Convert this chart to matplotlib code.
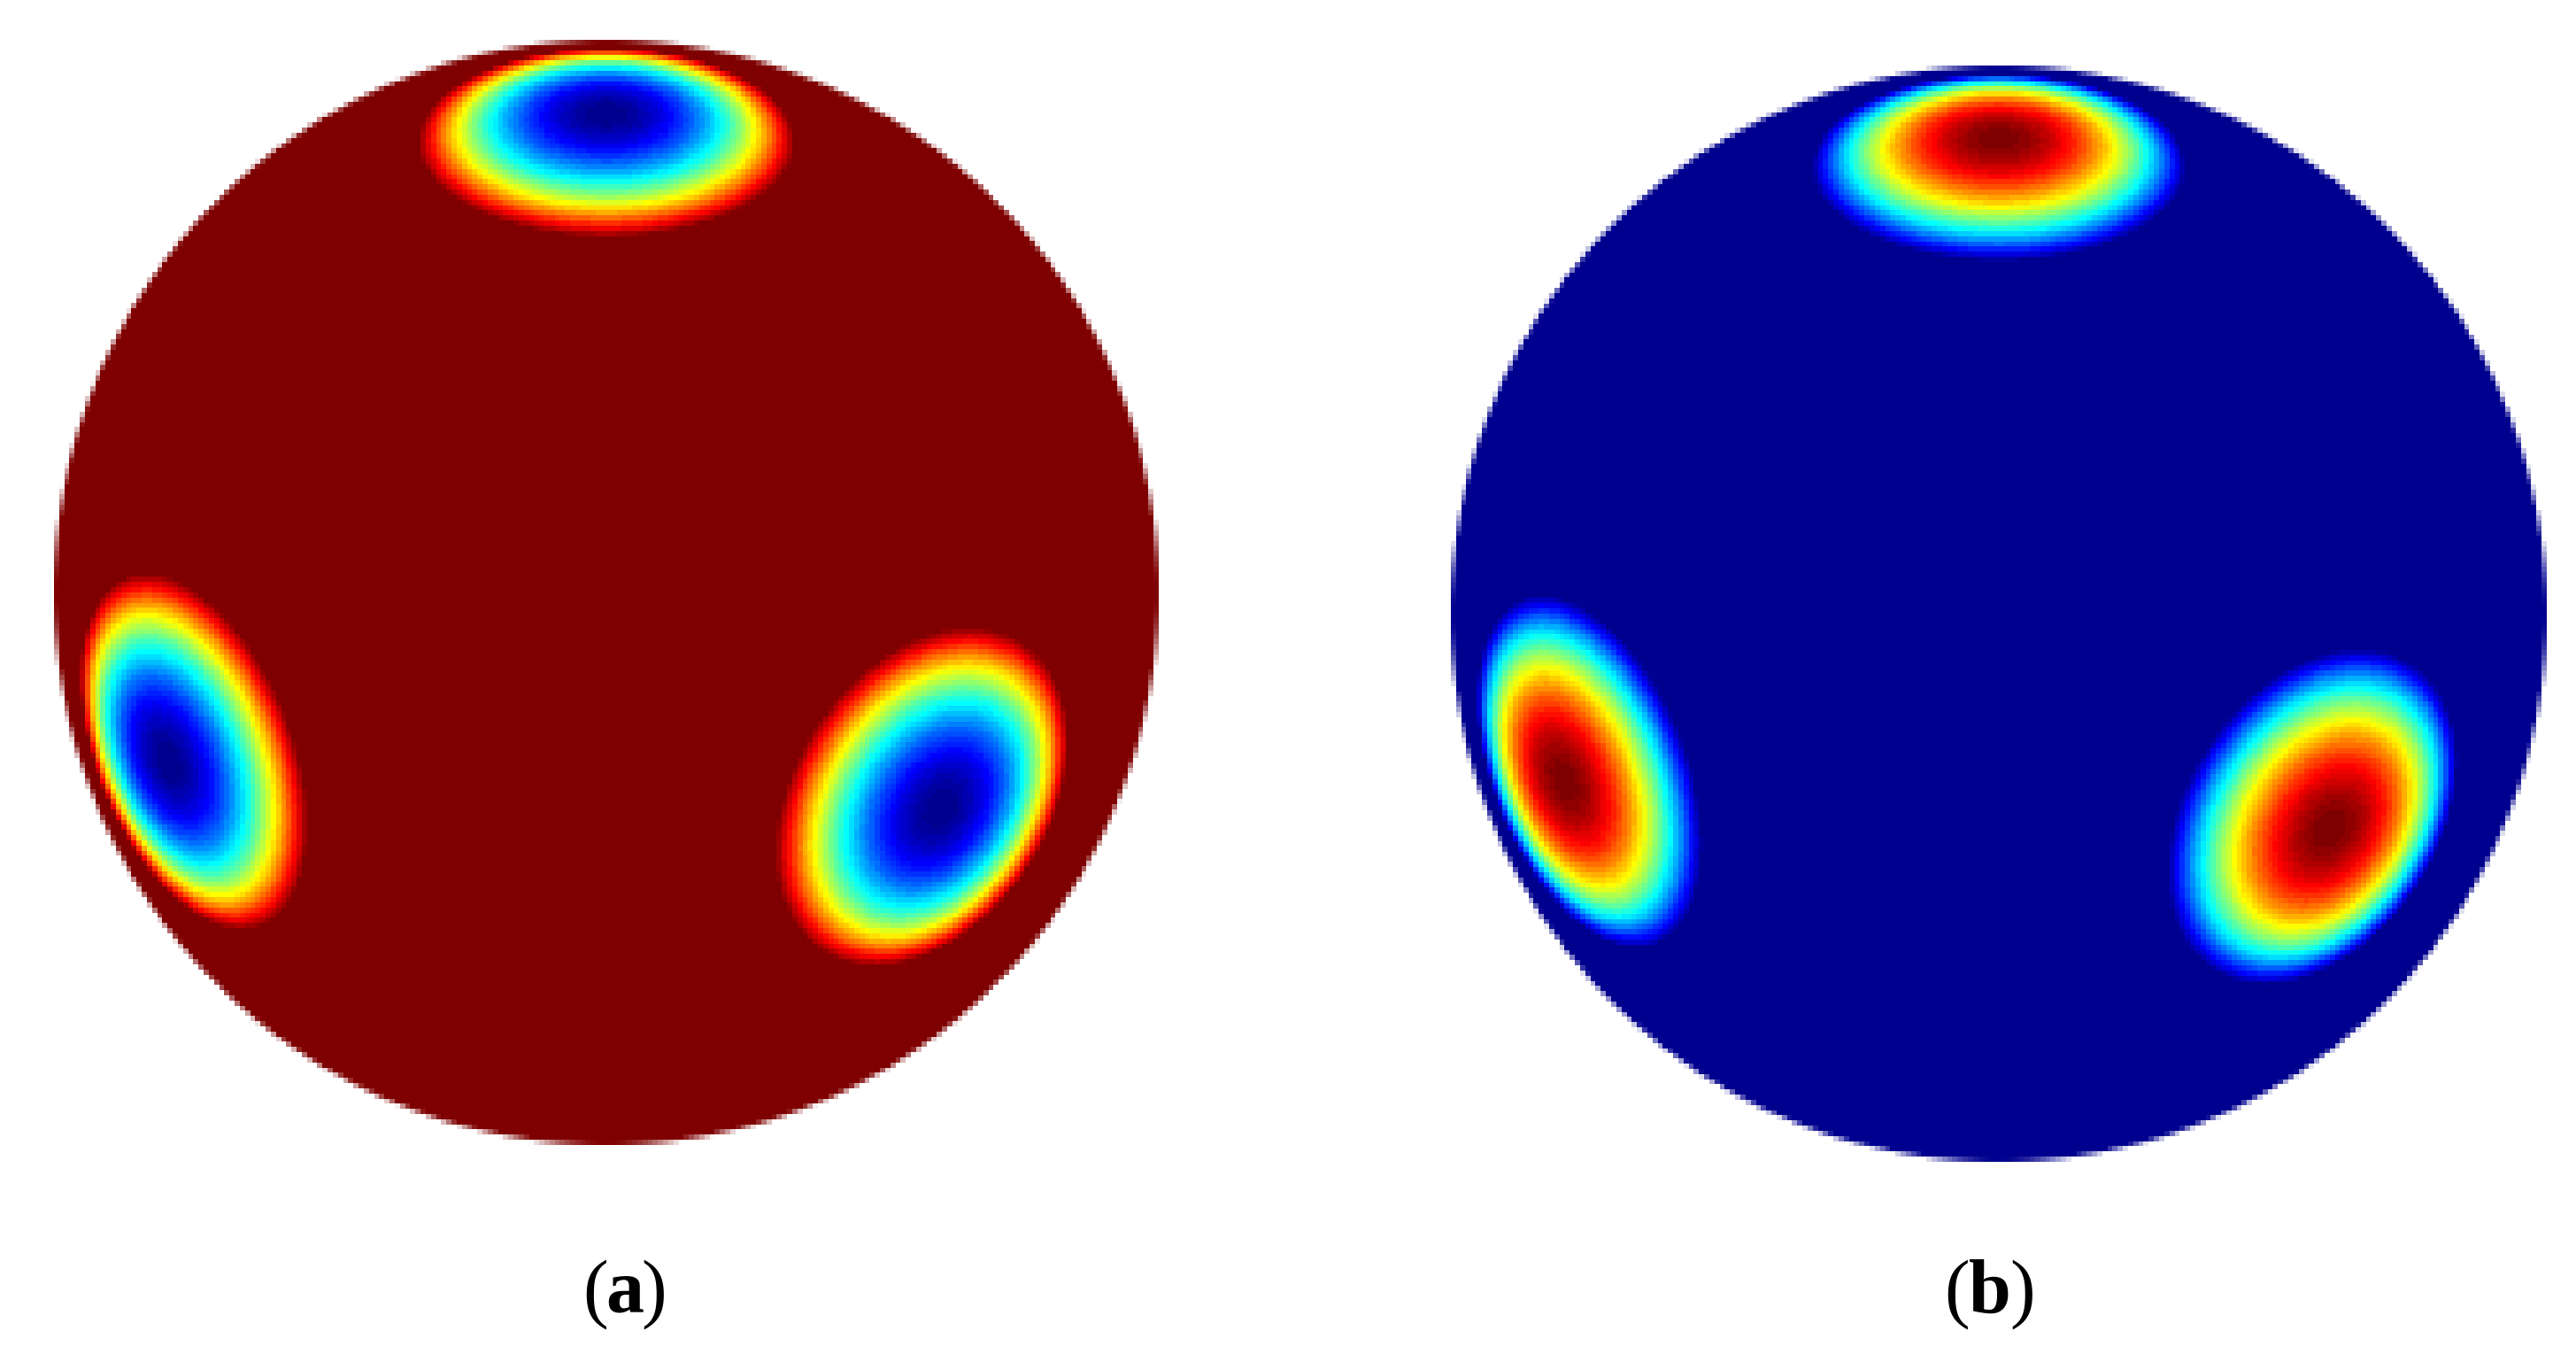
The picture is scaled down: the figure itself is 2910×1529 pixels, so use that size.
import numpy as np
import matplotlib
matplotlib.use("Agg")
import matplotlib.pyplot as plt
from matplotlib.colors import ListedColormap

FIG_W = 2910
FIG_H = 1529
CELL = 5.83

# spot centres on the unit sphere, as seen from the viewer (x right, y up)
spot_x = [0.0, -0.793, 0.606]
spot_y = [0.866, -0.306, -0.392]
spot_radius_deg = [20.0, 19.8, 19.5]
spot_power = 1.92

# panel: letter, centre x, centre y, radius (figure pixels), label centre
panel_names = ["a", "b"]
panel_cx = [685, 2258]
panel_cy = [669, 693]
panel_r = [624, 619]
label_x = [706, 2248]
label_gap = [33, 37]
label_y = 1482


def matlab_jet():
    t = np.arange(1, 65) / 16
    rgb = [np.clip(1.5 - np.abs(t - c), 0, 1) for c in (3, 2, 1)]
    return ListedColormap(np.column_stack(rgb))


def sphere_field(n, radius_cells):
    t = (np.arange(n) + 0.5) / n * 2 - 1
    x, y = np.meshgrid(t, -t)
    rho2 = x ** 2 + y ** 2
    z = np.sqrt(np.clip(1 - rho2, 0, 1))

    field = np.ones_like(x)
    for sx, sy, sr in zip(spot_x, spot_y, spot_radius_deg):
        sz = np.sqrt(1 - sx ** 2 - sy ** 2)
        cos_a = np.clip(x * sx + y * sy + z * sz, -1, 1)
        angle = np.degrees(np.arccos(cos_a))
        field = np.minimum(field, np.clip(angle / sr, 0, 1) ** spot_power)

    alpha = np.clip((1 - np.sqrt(rho2)) * radius_cells + 0.5, 0, 1)
    return field, alpha


fig = plt.figure(figsize=(FIG_W / 100, FIG_H / 100), dpi=100, facecolor="white")
cmap = matlab_jet()

for i, name in enumerate(panel_names):
    cx, cy, r = panel_cx[i], panel_cy[i], panel_r[i]
    ax = fig.add_axes([(cx - r) / FIG_W, 1 - (cy + r) / FIG_H, 2 * r / FIG_W, 2 * r / FIG_H])
    n = int(round(2 * r / CELL))
    field, alpha = sphere_field(n, r / CELL)
    if name == "b":
        field = 1 - field
    ax.imshow(field, cmap=cmap, vmin=0, vmax=1, alpha=alpha, extent=(-1, 1, -1, 1),
              interpolation="nearest")
    ax.axis("off")

    gap = label_gap[i]
    for ch, dx, weight in [("(", -gap, "normal"), (name, 0, "bold"), (")", gap, "normal")]:
        fig.text((label_x[i] + dx) / FIG_W, 1 - label_y / FIG_H, ch, ha="center", va="baseline",
                 fontsize=62, fontweight=weight, family="Liberation Serif", color="black")

fig.savefig("out.png", dpi=100)
